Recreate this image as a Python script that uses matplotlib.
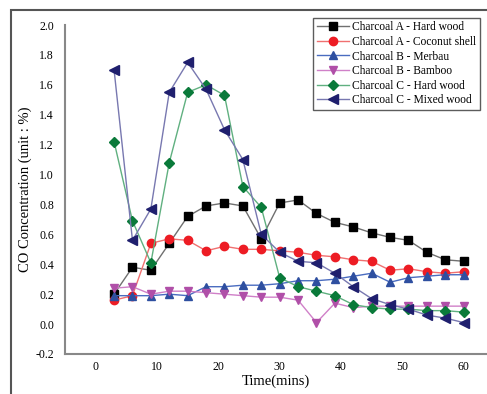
import matplotlib
matplotlib.use("Agg")
import matplotlib.pyplot as plt
from matplotlib.patches import Rectangle

plt.rcParams['font.family'] = ['Liberation Serif', 'DejaVu Serif']

# time (mins)
time = [3, 6, 9, 12, 15, 18, 21, 24, 27, 30, 33, 36, 39, 42, 45, 48, 51, 54, 57, 60]

a_hard = [0.20, 0.38, 0.36, 0.54, 0.72, 0.79, 0.81, 0.79, 0.57, 0.81,
          0.83, 0.74, 0.68, 0.65, 0.61, 0.58, 0.56, 0.48, 0.43, 0.42]
a_coco = [0.16, 0.19, 0.54, 0.57, 0.56, 0.49, 0.52, 0.50, 0.50, 0.49,
          0.48, 0.46, 0.45, 0.43, 0.42, 0.36, 0.37, 0.35, 0.34, 0.35]
b_merbau = [0.19, 0.19, 0.19, 0.20, 0.19, 0.25, 0.25, 0.26, 0.26, 0.27,
            0.29, 0.29, 0.30, 0.32, 0.34, 0.28, 0.31, 0.32, 0.33, 0.33]
b_bamboo = [0.24, 0.25, 0.20, 0.22, 0.22, 0.21, 0.20, 0.19, 0.18, 0.18,
            0.16, 0.01, 0.14, 0.11, 0.12, 0.12, 0.12, 0.12, 0.12, 0.12]
c_hard = [1.22, 0.69, 0.41, 1.08, 1.55, 1.60, 1.53, 0.92, 0.78, 0.31,
          0.25, 0.22, 0.19, 0.13, 0.11, 0.10, 0.10, 0.09, 0.09, 0.08]
c_mixed = [1.70, 0.56, 0.77, 1.55, 1.75, 1.57, 1.30, 1.10, 0.60, 0.48,
           0.42, 0.41, 0.34, 0.25, 0.17, 0.13, 0.10, 0.06, 0.04, 0.01]

labels = ['Charcoal A - Hard wood', 'Charcoal A - Coconut shell', 'Charcoal B - Merbau',
          'Charcoal B - Bamboo', 'Charcoal C - Hard wood', 'Charcoal C - Mixed wood']
series = [a_hard, a_coco, b_merbau, b_bamboo, c_hard, c_mixed]

markers = ['s', 'o', '^', 'v', 'D', '<']
mcolors = ['#000000', '#ED1C24', '#2E4FA0', '#B04FA8', '#0A7A3A', '#1F1F6E']
lcolors = ['#707070', '#F07070', '#4A6CC0', '#D080C8', '#60B080', '#7878B0']
msizes = [5.5, 6, 6, 6, 5, 6.5]

fig = plt.figure(figsize=(4.87, 3.94), dpi=100)
ax = fig.add_axes([65/487, 1-354/394, 1-65/487, (354-25)/394])

for y, lab, m, mc, lc, ms in zip(series, labels, markers, mcolors, lcolors, msizes):
    ax.plot(time, y, marker=m, color=lc, markerfacecolor=mc, markeredgecolor=mc,
            markersize=ms, linewidth=1.0, label=lab)

ax.set_xlim(-5, 63.8)
ax.set_ylim(-0.2, 2.0)
ax.set_xticks([0, 10, 20, 30, 40, 50, 60])
ax.set_yticks([-0.2, 0.0, 0.2, 0.4, 0.6, 0.8, 1.0, 1.2, 1.4, 1.6, 1.8, 2.0])
ax.set_yticklabels(['-0.2', '0.0', '0.2', '0.4', '0.6', '0.8', '1.0', '1.2', '1.4', '1.6', '1.8', '2.0'])
ax.tick_params(length=0, labelsize=8.5)
ax.tick_params(axis='y', pad=8)
ax.tick_params(axis='x', pad=5)
for s in ['top', 'right']:
    ax.spines[s].set_visible(False)
for s in ['left', 'bottom']:
    ax.spines[s].set_color('#888888')
    ax.spines[s].set_linewidth(1.5)

ax.set_xlabel('Time(mins)', fontsize=10.5, labelpad=1)
ax.set_ylabel('CO Concentration (unit : %)', fontsize=10.5, labelpad=2)

leg = ax.legend(loc='upper right', bbox_to_anchor=(480/487, 1-18/394), bbox_transform=fig.transFigure,
                fontsize=8.3, frameon=True, fancybox=False, handlelength=2.8,
                borderpad=0.3, labelspacing=0.22, handletextpad=0.3, borderaxespad=0)
leg.get_frame().set_edgecolor('#333333')
leg.get_frame().set_linewidth(1.0)

# outer frame
fig.patches.append(Rectangle((11/487, -0.1), 1.2, 1-10/394+0.1, transform=fig.transFigure,
                             fill=False, edgecolor='#555555', linewidth=1.5))

fig.savefig('out.png', dpi=100)
